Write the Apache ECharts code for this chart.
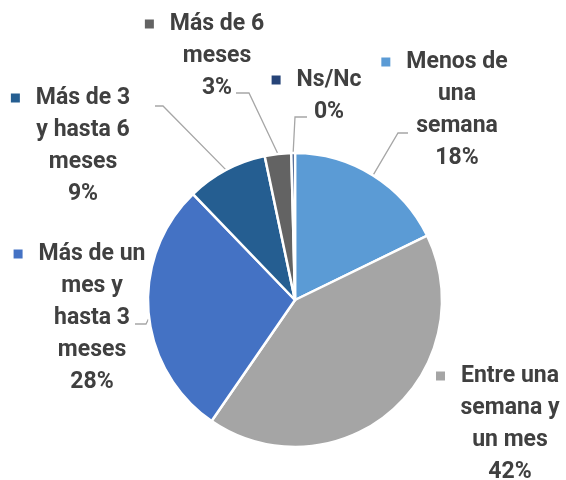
<!DOCTYPE html>
<html>
<head>
<meta charset="utf-8">
<script src="https://cdn.jsdelivr.net/npm/echarts@6/dist/echarts.min.js"></script>
<style>
  html, body { margin: 0; padding: 0; background: #fff; }
  #main { width: 566px; height: 480px; }
</style>
</head>
<body>
<div id="main"></div>
<script>
var categories = ['Menos de una semana', 'Entre una semana y un mes', 'Más de un mes y hasta 3 meses',
                  'Más de 3 y hasta 6 meses', 'Más de 6 meses', 'Ns/Nc'];
var labelText = [
  ['Menos de', 'una', 'semana'],
  ['Entre una', 'semana y', 'un mes'],
  ['Más de un', 'mes y', 'hasta 3', 'meses'],
  ['Más de 3', 'y hasta 6', 'meses'],
  ['Más de 6', 'meses'],
  ['Ns/Nc']
];
var values = [17.8, 41.8, 28.2, 8.9, 2.9, 0.4];
var colors = ['#5B9BD5', '#A5A5A5', '#4472C4', '#255E91', '#636363', '#264478'];

// where each label block sits (centre of block)
var labelPos = [[457, 110], [510, 424], [92, 318], [83, 146], [217, 56], [329, 96]];
// leader line: optional start override, elbow, end (null = no line)
var leaderLines = [
  [null, [398, 133], [408, 133]],
  null,
  [[148.5, 319], [146, 324], [135, 324]],
  [null, [163, 106], [155, 106]],
  [null, [249, 93], [236, 93]],
  [null, [295, 117], [307, 117]]
];

var chart = echarts.init(document.getElementById('main'));

var rich = {
  sp: { width: 16, lineHeight: 32 },
  pad: { width: 25, lineHeight: 32 }
};
for (var i = 0; i < colors.length; i++) {
  rich['m' + i] = { width: 9, height: 9, backgroundColor: colors[i], lineHeight: 32 };
}

var data = [];
for (var i = 0; i < values.length; i++) {
  data.push({
    name: categories[i],
    value: values[i],
    itemStyle: { color: colors[i] },
    labelLine: { show: leaderLines[i] !== null }
  });
}

option = {
  animation: false,
  series: [
    {
      type: 'pie',
      center: [295, 300],
      radius: 147,
      startAngle: 90,
      clockwise: true,
      avoidLabelOverlap: false,
      data: data,
      itemStyle: { borderColor: '#fff', borderWidth: 2.5 },
      label: {
        show: true,
        position: 'outside',
        fontFamily: 'Roboto',
        fontWeight: 'bold',
        fontSize: 23,
        lineHeight: 32,
        color: '#404040',
        align: 'center',
        rich: rich,
        formatter: function (p) {
          var lines = labelText[p.dataIndex];
          var s = '{m' + p.dataIndex + '|}{sp|}' + lines[0] + '{pad|}';
          for (var k = 1; k < lines.length; k++) s += '\n' + lines[k];
          return s + '\n' + Math.round(p.percent) + '%';
        }
      },
      labelLine: {
        show: true,
        lineStyle: { color: '#A6A6A6', width: 1.3 }
      },
      labelLayout: function (params) {
        var i = params.dataIndex;
        var pos = labelPos[i];
        var res = { x: pos[0], y: pos[1], align: 'center', verticalAlign: 'middle' };
        var ll = leaderLines[i];
        if (ll) {
          var start = ll[0] || (params.labelLinePoints ? params.labelLinePoints[0] : ll[1]);
          res.labelLinePoints = [start, ll[1], ll[2]];
        }
        return res;
      }
    }
  ]
};

chart.setOption(option);
</script>
</body>
</html>
